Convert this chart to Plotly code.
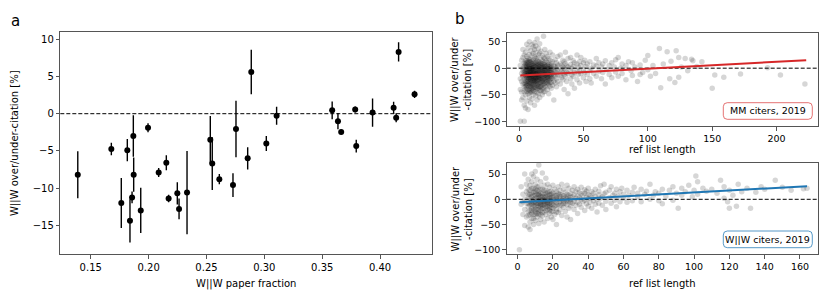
import plotly.graph_objects as go

# ---------------- Panel a data ----------------
paper_fraction = [0.1388, 0.1678, 0.1764, 0.1816, 0.1839, 0.1857, 0.1868, 0.1871, 0.1932, 0.1995,
                  0.2087, 0.2153, 0.2173, 0.2248, 0.2263, 0.2332, 0.2533, 0.2550, 0.2611, 0.2729,
                  0.2755, 0.2856, 0.2887, 0.3017, 0.3106, 0.3586, 0.3636, 0.3664, 0.3785, 0.3794,
                  0.3935, 0.4117, 0.4139, 0.4160, 0.4298]
over_under = [-8.2, -4.75, -12.0, -4.9, -14.4, -11.25, -3.0, -8.2, -13.0, -1.9,
              -7.9, -6.6, -11.4, -10.7, -12.8, -10.6, -3.5, -6.7, -8.8, -9.6,
              -2.05, -6.0, 5.6, -4.0, -0.27, 0.45, -1.0, -2.45, 0.55, -4.35,
              0.15, 0.8, -0.55, 8.3, 2.6]
over_under_err = [3.15, 0.85, 3.35, 1.5, 2.9, 0.8, 2.8, 2.3, 3.05, 0.6,
                  0.6, 1.0, 0.5, 1.5, 1.4, 5.6, 3.2, 3.55, 0.7, 1.6,
                  3.8, 1.5, 3.0, 1.0, 1.2, 1.2, 1.1, 0.3, 0.4, 0.85,
                  1.9, 0.8, 0.6, 1.3, 0.5]

# ---------------- Panel b data (ref list length -> deviation %) ----------------
mm_by_len = {
    1: [-100, -20, 5, -40], 2: [-45, -10, 15, -60, -25], 3: [-30, 0, 20, -55, -15, -5, 35],
    4: [-100, -35, -70, -20, 10, -8, 25, -45], 5: [-75, -50, -30, -18, -10, -2, 6, 14, 30, -40],
    6: [-62, -38, -25, -15, -6, 2, 10, 22, 45, -30, -12],
    7: [-78, -48, -33, -22, -14, -7, 0, 8, 18, 38, -28, -10],
    8: [-55, -42, -30, -20, -12, -5, 3, 12, 26, 50, -18, -35, 0],
    9: [-65, -45, -35, -25, -17, -9, -1, 7, 16, 33, -22, -13, -4],
    10: [-58, -40, -28, -19, -11, -4, 4, 13, 24, 44, -32, -15, 0],
    11: [-50, -37, -27, -18, -10, -3, 5, 15, 28, 40, -23, -8],
    12: [-70, -44, -31, -21, -13, -6, 2, 10, 21, 35, -16, -26, 48],
    13: [-52, -36, -24, -16, -9, -2, 6, 18, 30, -12, -20, 42],
    14: [-46, -33, -23, -14, -7, 1, 9, 20, -29, -11, 55, -60],
    15: [-48, -30, -20, -12, -5, 3, 12, 25, -17, -38, 37],
    16: [-55, -35, -22, -13, -6, 2, 11, 28, -17, 46],
    17: [-42, -27, -18, -10, -3, 5, 16, -33, 32], 18: [-50, -31, -20, -11, -4, 4, 14, 24, -24],
    19: [-37, -25, -15, -8, 0, 8, 20, 60, -45], 20: [-44, -28, -18, -9, -2, 6, 18, 35, -12],
    21: [-35, -22, -13, -5, 3, 13, 28], 22: [-40, -26, -15, -7, 1, 10, -20, 22],
    23: [-30, -18, -9, -1, 7, 18, -48], 24: [-34, -21, -12, -4, 4, 15, 30],
    25: [-27, -16, -8, 0, 9, -38], 26: [-32, -19, -10, -2, 12, 25], 27: [-24, -13, -5, 4, -60],
    28: [-28, -15, -6, 3, 16], 29: [-20, -9, 1, 10, -35], 30: [-25, -12, -3, 6, 22],
    32: [-30, -14, -4, 8, 25], 33: [-18, -6, 5], 34: [-22, -9, 2, 15], 35: [-40, -12, 0, 12],
    36: [-16, -3, 9, 30], 37: [-25, -8, 4], 38: [-48, -10, 2, 18], 40: [-20, -5, 7, 20],
    41: [-30, -12, 0], 42: [-15, 3, 14], 43: [-8, 10, -38], 45: [-22, -4, 8, 25], 46: [-12, 2],
    47: [-28, -6, 12], 48: [-10, 5, 20], 50: [-18, -2, 10], 51: [-8, 15], 52: [-25, 3],
    53: [-12, 8], 55: [-5, 12, -20], 56: [0, -28], 58: [-10, 6], 60: [-15, 4, 18], 62: [-6, 10],
    64: [-20, 2], 65: [8, -8], 67: [-30, 14], 68: [-3], 70: [-12, 5], 72: [10, -18], 74: [2],
    75: [-7, 16], 77: [-15, 20], 79: [0], 80: [-10, 8], 83: [-22, 5], 85: [12], 87: [-5],
    88: [-14, 10], 90: [2], 92: [-25], 94: [6, -12], 96: [-8], 98: [15], 100: [24, -3],
    102: [-15], 104: [5], 106: [-10], 109: [37], 110: [-37], 112: [8], 115: [31], 117: [-20],
    118: [13], 121: [-27], 122: [33], 124: [20, -17], 126: [2], 129: [18], 131: [-5],
    134: [17], 135: [14], 138: [3], 142: [12], 150: [-38], 152: [-13], 159: [-17],
    172: [-11], 193: [1], 203: [-13], 222: [-30],
}
mm_core_by_len = {
    4: [-28, -12, -3, 4], 5: [-35, -24, -14, -6, 2, 9], 6: [-44, -33, -20, -10, -2, 5, 14],
    7: [-40, -25, -17, -11, -4, 3, 12], 8: [-46, -26, -15, -8, -2, 6, 16],
    9: [-38, -29, -19, -11, -6, 2, 11], 10: [-45, -35, -23, -13, -7, -1, 8],
    11: [-42, -31, -21, -13, -6, 1, 9], 12: [-36, -24, -18, -9, -3, 5],
    13: [-40, -28, -18, -11, -5, 2, 11], 14: [-38, -26, -18, -10, -3, 4, 14],
    15: [-34, -24, -15, -8, -1, 7], 16: [-42, -28, -19, -9, -2, 6], 17: [-36, -22, -14, -6, 1, 9],
    18: [-40, -26, -15, -7, 0, 8], 19: [-30, -20, -11, -4, 3], 20: [-34, -22, -13, -5, 2, 10],
    21: [-26, -17, -9, -1], 22: [-30, -18, -11, -3, 5], 23: [-24, -13, -5, 3],
    24: [-27, -16, -8, 0], 25: [-20, -12, -4, 4],
}
ww_by_len = {
    1: [-100], 2: [25, -10], 3: [-5, 10, -30], 4: [50, -20, 0, -52], 5: [-35, 15, -8, 30],
    6: [-55, -15, 5, 40, -25, 20], 7: [-45, -22, -5, 10, 28, -60],
    8: [-38, -18, -2, 12, 35, -8, -28, 50], 9: [-50, -30, -12, 0, 8, 22, -20, 45],
    10: [-42, -25, -10, 2, 15, 30, -5, -15, 55], 11: [-35, -20, -8, 4, 18, -28, -2, 40],
    12: [-48, -30, -14, -3, 8, 25, 68, -20, 10], 13: [-40, -22, -10, 0, 12, 35, -5, -16],
    14: [-33, -18, -6, 5, 20, -26, 52, -2], 15: [-45, -25, -12, -1, 10, 28, -8],
    16: [-30, -15, -4, 6, 18, -22, 42], 17: [-38, -20, -9, 2, 14, -3, 30],
    18: [-28, -13, -2, 9, 24, -18], 19: [-35, -16, -6, 4, 16, -10], 20: [-24, -11, 0, 12, 28, -40],
    21: [-30, -14, -3, 8, 20], 22: [-50, -19, -7, 3, 15, -12], 23: [-26, -10, 1, 11, 25],
    24: [-21, -5, 6, 18], 25: [-32, -12, -2, 9, 30], 26: [-16, -4, 7, 20], 27: [-24, -8, 3, 14],
    28: [-35, -11, 0, 10, 28], 29: [-18, -3, 8, 22], 30: [-40, -13, -1, 12], 31: [-8, 5, 18],
    32: [-20, -4, 9, 25], 33: [-12, 2, 15], 34: [-28, -6, 6, 20], 35: [-10, 3, 14],
    36: [-16, 0, 11, 24], 37: [-5, 8], 38: [-22, -2, 12, 19], 39: [-9, 4, 16], 40: [-14, 1, 10, 22],
    41: [-6, 7], 42: [-18, 3, 15], 43: [-3, 12], 44: [-10, 6, 20], 45: [0, -25], 46: [-8, 9, 16],
    47: [2, 27], 48: [-12, 5], 49: [11, 30], 50: [-4, 14, -20], 52: [3, 18], 53: [-8, 25],
    54: [8], 55: [-2, 12], 56: [20, -15], 57: [6], 58: [15, -5], 59: [22], 60: [2, 10],
    62: [18, -6], 63: [8], 65: [14, -3], 66: [24], 68: [5, 12], 70: [-5, 20], 72: [10], 73: [16],
    75: [30, 0], 77: [8], 78: [15], 80: [12, -3], 82: [-9, 20], 84: [6], 86: [18], 88: [-2, 25],
    90: [12], 91: [-18], 93: [8, 22], 95: [15], 97: [28], 99: [5], 100: [18], 101: [46],
    102: [35, 10], 105: [22], 107: [16], 110: [20], 113: [12], 115: [38], 117: [2, 25],
    119: [-5], 120: [-18, 18], 122: [8], 124: [-14], 125: [30], 127: [15], 130: [22],
    132: [-18], 135: [14], 138: [25], 140: [20], 146: [38], 150: [24], 155: [18], 162: [21],
    164: [22],
}
ww_core_by_len = {
    6: [-32, -8, 10], 7: [-30, -12, 2, 18], 8: [-22, -10, 5, 22], 9: [-38, -6, 14],
    10: [-30, -20, 8, 20], 11: [-12, 10, 25], 12: [-25, -8, 2, 15], 13: [-30, -12, 5, 20],
    14: [-12, 0, 10], 15: [-18, -4, 4, 18], 16: [-10, 0, 12], 17: [-14, -6, 8],
    18: [-22, -8, 4, 15], 19: [-24, 0, 10], 20: [-18, -5, 6], 22: [-25, 0, 8],
    24: [-12, 0, 10], 26: [-8, 2], 28: [-4, 5], 30: [-6, 4],
}
mm_fit_len = [1, 223]
mm_fit_dev = [-14, 15]
ww_fit_len = [1, 164]
ww_fit_dev = [-6, 26]

def flatten(*dicts):
    xs, ys = [], []
    for d in dicts:
        for k, vs in d.items():
            for v in vs:
                xs.append(k)
                ys.append(v)
    return xs, ys

mm_len, mm_dev = flatten(mm_by_len, mm_core_by_len)
ww_len, ww_dev = flatten(ww_by_len, ww_core_by_len)

W, H = 830, 299
def px(x): return x / W
def py(y): return 1 - y / H

FONT = "DejaVu Sans"
AX = "#555555"
DASH = "4px,2px"

fig = go.Figure()

fig.add_trace(go.Scatter(
    x=paper_fraction, y=over_under, mode="markers",
    marker=dict(color="black", size=6),
    error_y=dict(type="data", array=over_under_err, color="black", thickness=1.4, width=0),
    xaxis="x", yaxis="y", showlegend=False))

fig.add_trace(go.Scatter(
    x=mm_len, y=mm_dev, mode="markers",
    marker=dict(color="black", size=5.5, opacity=0.16, line=dict(width=0)),
    xaxis="x2", yaxis="y2", showlegend=False))
fig.add_trace(go.Scatter(
    x=mm_fit_len, y=mm_fit_dev, mode="lines", line=dict(color="#d62728", width=2),
    xaxis="x2", yaxis="y2", showlegend=False))

fig.add_trace(go.Scatter(
    x=ww_len, y=ww_dev, mode="markers",
    marker=dict(color="black", size=5.5, opacity=0.16, line=dict(width=0)),
    xaxis="x3", yaxis="y3", showlegend=False))
fig.add_trace(go.Scatter(
    x=ww_fit_len, y=ww_fit_dev, mode="lines", line=dict(color="#1f77b4", width=2),
    xaxis="x3", yaxis="y3", showlegend=False))

axis_common = dict(showline=True, mirror=True, linecolor=AX, linewidth=1, ticks="outside",
                   ticklen=3.5, tickcolor=AX, showgrid=False, zeroline=False,
                   tickfont=dict(family=FONT, size=10, color="black"))

xa = [px(60.3), px(431.7)]
xb = [px(506.7), px(818.3)]
fig.update_layout(
    width=W, height=H, margin=dict(l=0, r=0, t=0, b=0),
    plot_bgcolor="white", paper_bgcolor="white",
    xaxis=dict(domain=xa, range=[0.1237, 0.4446], tickvals=[0.15, 0.20, 0.25, 0.30, 0.35, 0.40],
               tickformat=".2f", anchor="y", **axis_common),
    yaxis=dict(domain=[py(254.3), py(32.3)], range=[-18.9, 10.94], tickvals=[-15, -10, -5, 0, 5, 10],
               anchor="x", **axis_common),
    xaxis2=dict(domain=xb, range=[-9.6, 232.4], tickvals=[0, 50, 100, 150, 200], anchor="y2",
                **axis_common),
    yaxis2=dict(domain=[py(126), py(32.5)], range=[-108.9, 67.2], tickvals=[-100, -50, 0, 50],
                anchor="x2", **axis_common),
    xaxis3=dict(domain=xb, range=[-6.2, 170.4], tickvals=[0, 20, 40, 60, 80, 100, 120, 140, 160],
                anchor="y3", **axis_common),
    yaxis3=dict(domain=[py(254.3), py(162.7)], range=[-109.1, 72.6], tickvals=[-100, -50, 0, 50],
                anchor="x3", **axis_common),
)
for ax in ["xaxis2", "yaxis2", "xaxis3", "yaxis3"]:
    fig.layout[ax].tickfont.size = 9.5

# dashed zero lines
for xr, yr in [("x", "y"), ("x2", "y2"), ("x3", "y3")]:
    fig.add_shape(type="line", xref=f"{xr} domain", yref=yr, x0=0, x1=1, y0=0, y1=0,
                  line=dict(color="black", width=1, dash=DASH), layer="below")

# rounded legend boxes
def rounded_box(x0, y0, x1, y1, r, color):
    X0, X1 = px(x0), px(x1)
    Y0, Y1 = py(y0), py(y1)
    rx, ry = r / W, r / H
    path = (f"M {X0+rx},{Y0} L {X1-rx},{Y0} Q {X1},{Y0} {X1},{Y0-ry} "
            f"L {X1},{Y1+ry} Q {X1},{Y1} {X1-rx},{Y1} L {X0+rx},{Y1} Q {X0},{Y1} {X0},{Y1+ry} "
            f"L {X0},{Y0-ry} Q {X0},{Y0} {X0+rx},{Y0} Z")
    fig.add_shape(type="path", xref="paper", yref="paper", path=path,
                  line=dict(color=color, width=1), fillcolor="white")

rounded_box(723.3, 102.7, 812.3, 119.3, 4, "rgba(214,39,40,0.65)")
rounded_box(723.3, 231.0, 812.3, 247.7, 4, "rgba(31,119,180,0.75)")

def ann(text, x, y, size=10, angle=0):
    fig.add_annotation(text=text, x=px(x), y=py(y), xref="paper", yref="paper",
                       xanchor="center", yanchor="middle", showarrow=False, textangle=angle,
                       font=dict(family=FONT, size=size, color="black"))

ann("MM citers, 2019", 767.8, 111.0, size=9.5)
ann("W||W citers, 2019", 767.8, 239.4, size=9.5)
ann("a", 15, 21, size=15)
ann("b", 460, 19, size=15)
ann("W||W over/under-citation [%]", 15, 143, size=10, angle=-90)
ann("W||W paper fraction", 245.5, 284, size=10)
ann("W||W over/under<br>-citation [%]", 461, 79, size=10, angle=-90)
ann("W||W over/under<br>-citation [%]", 461, 208.5, size=10, angle=-90)
ann("ref list length", 662, 149, size=10)
ann("ref list length", 662, 283.5, size=10)

fig.write_html("out.html", config={"displayModeBar": False},
               post_script="document.body.style.margin='0';document.body.style.overflow='hidden';")
